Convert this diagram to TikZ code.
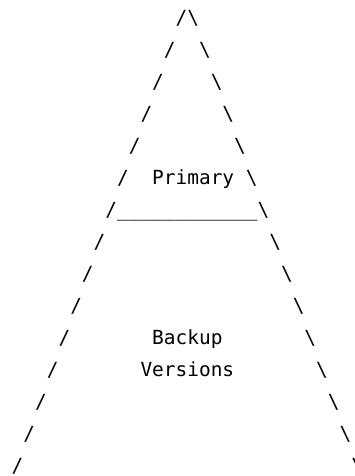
\documentclass[tikz,border=0pt]{standalone}
\usepackage{fontspec}
\newfontfamily\asciifont{DejaVu Sans Mono}
\usepackage{tikz}
\usetikzlibrary{positioning}

\begin{document}
\begin{tikzpicture}[
  x=11.71pt, y=-32pt,
  glyph/.style={font=\asciifont\fontsize{19.45}{32}\selectfont, anchor=base west, inner sep=0pt, outer sep=0pt},
]
\useasboundingbox (0pt,0pt) rectangle (355pt,-476pt);

% Sides of the pyramid
\foreach \k in {1,...,15} {
  \pgfmathtruncatemacro\lc{16-\k}
  \pgfmathtruncatemacro\rc{15+\k}
  \node[glyph] (left\k) at (\lc, \k-0.22) {/};
  \node[glyph] (right\k) at (\rc, \k-0.22) {\textbackslash};
}

% Top tier
\node[glyph] (primary) at (13, 6-0.22) {Primary};
\node[glyph] (divider) at (10, 7-0.22) {\_\_\_\_\_\_\_\_\_\_\_\_};

% Bottom tier
\node[glyph] (backup) at (13, 11-0.22) {Backup};
\node[glyph] (versions) at (12, 12-0.22) {Versions};

\end{tikzpicture}
\end{document}
